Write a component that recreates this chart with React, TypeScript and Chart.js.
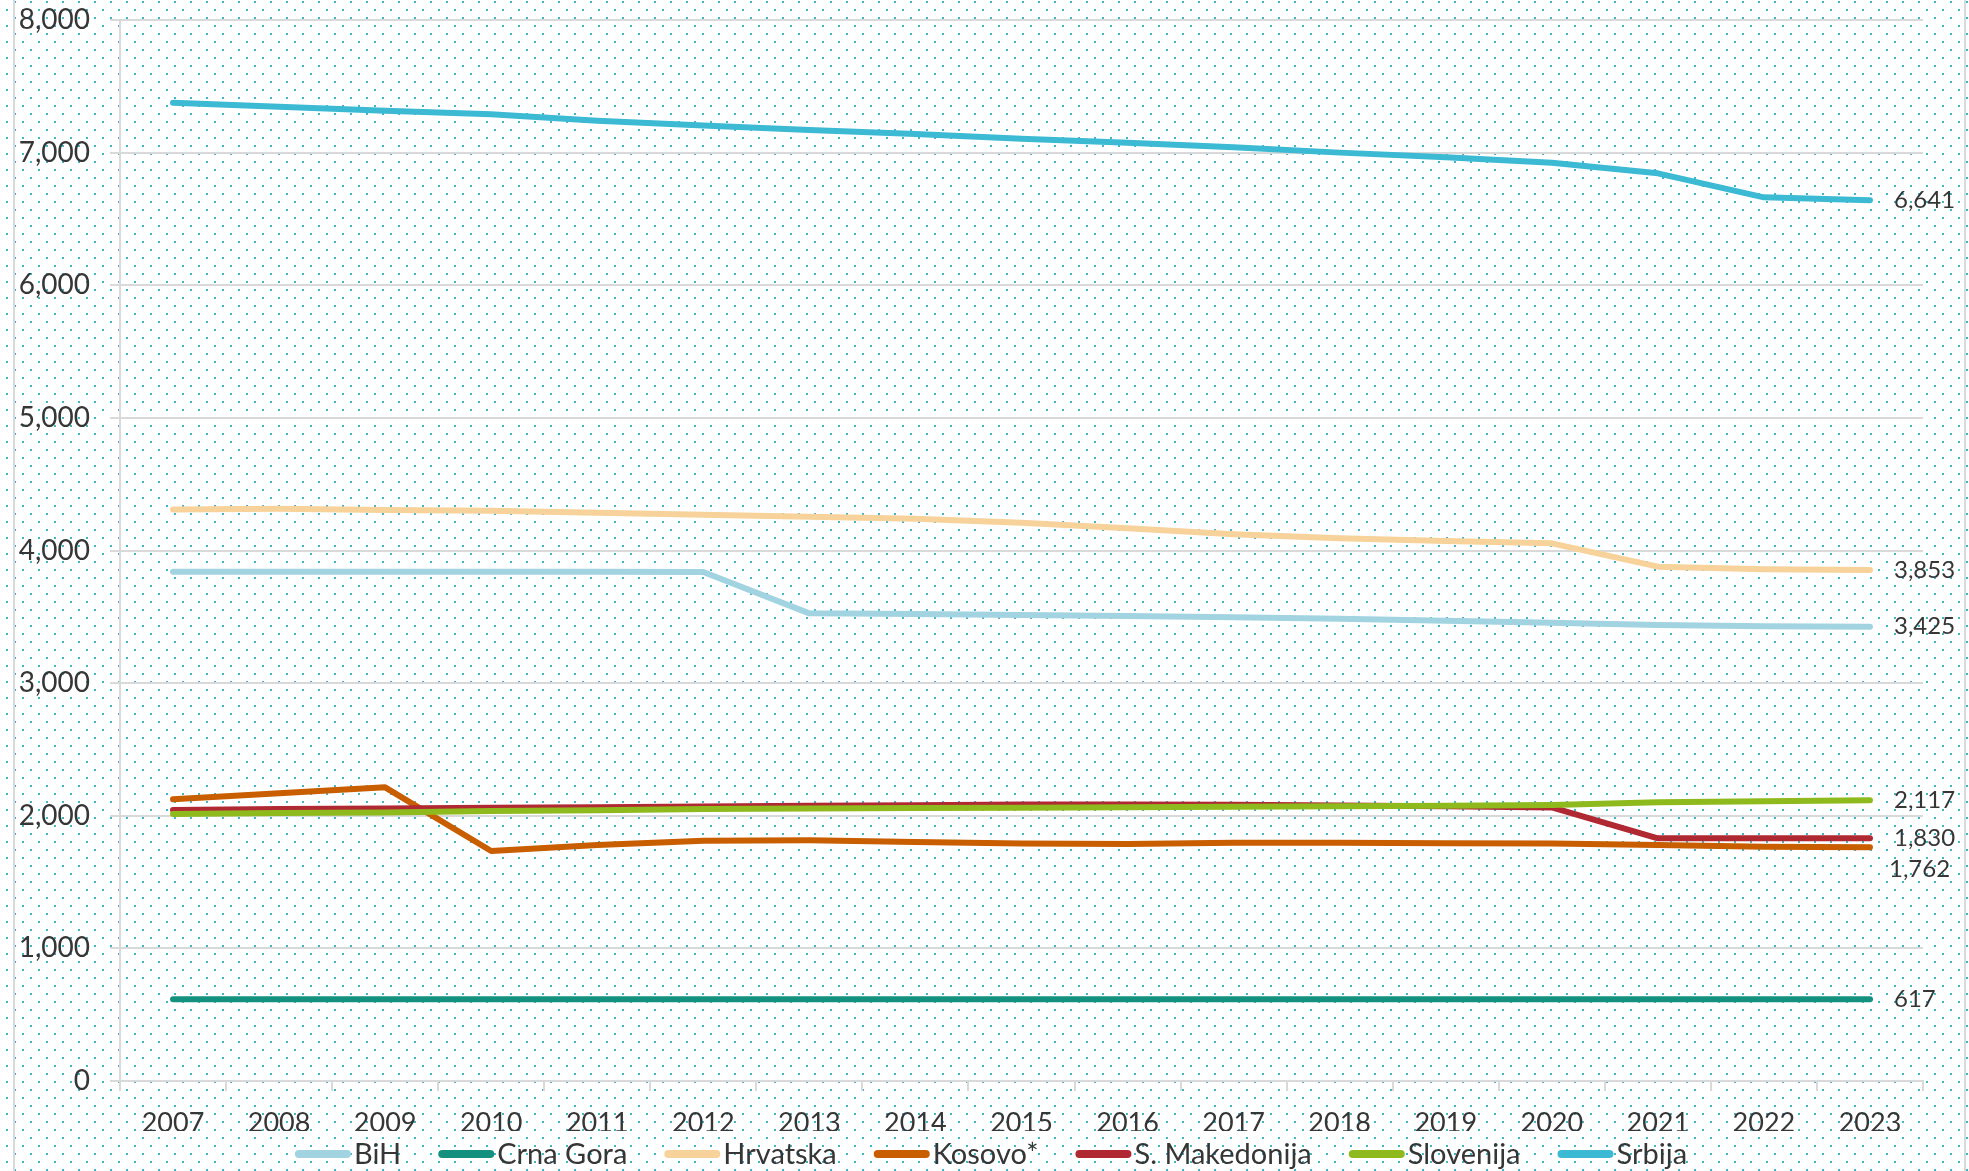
import React, { useEffect, useRef } from 'react';
import { Chart, registerables } from 'chart.js';

Chart.register(...registerables);

// ---- data ----
const years = ['2007', '2008', '2009', '2010', '2011', '2012', '2013', '2014', '2015', '2016', '2017', '2018', '2019', '2020', '2021', '2022', '2023'];

const bih = [3840, 3840, 3840, 3840, 3840, 3838, 3526, 3522, 3513, 3506, 3496, 3486, 3471, 3456, 3438, 3428, 3425];
const crnaGora = [617, 617, 617, 617, 617, 617, 617, 617, 617, 617, 617, 617, 617, 617, 617, 617, 617];
const hrvatska = [4310, 4315, 4305, 4300, 4285, 4270, 4255, 4240, 4209, 4167, 4122, 4092, 4071, 4054, 3878, 3858, 3853];
const kosovo = [2124, 2170, 2214, 1734, 1779, 1812, 1815, 1803, 1790, 1787, 1797, 1797, 1792, 1790, 1779, 1767, 1762];
const makedonija = [2043, 2050, 2055, 2060, 2065, 2070, 2075, 2080, 2085, 2085, 2083, 2078, 2072, 2063, 1830, 1830, 1830];
const slovenija = [2013, 2020, 2025, 2035, 2042, 2050, 2055, 2058, 2061, 2064, 2068, 2072, 2076, 2081, 2101, 2109, 2117];
const srbija = [7376, 7345, 7315, 7290, 7240, 7205, 7170, 7140, 7105, 7075, 7040, 7000, 6965, 6924, 6844, 6663, 6641];

const seriesNames = ['BiH', 'Crna Gora', 'Hrvatska', 'Kosovo*', 'S. Makedonija', 'Slovenija', 'Srbija'];
const seriesValues = [bih, crnaGora, hrvatska, kosovo, makedonija, slovenija, srbija];

const yMin = 0;
const yMax = 8000;
const yStep = 1000;

// ---- styles ----
const seriesColors = ['#A2D3E0', '#14907E', '#F7D29A', '#C85E00', '#B02832', '#8FBA1E', '#3CB9D3'];
// end-label offsets (dx, dy) in pixels
const labelOffsets: [number, number][] = [[24, 0], [24, 0], [24, 0], [19, 22], [24, 0], [24, 0], [24, 0]];

const FONT = 'Lato, "Open Sans", sans-serif';
const TEXT = '#363636';
const GRID = '#D9D9D9';
const DOT = '#3DB6CC';
const W = 1969;
const H = 1171;

const bgPlugin = {
  id: 'bgPattern',
  beforeDraw(chart: any) {
    const { ctx, width, height } = chart;
    ctx.save();
    ctx.fillStyle = '#ffffff';
    ctx.fillRect(0, 0, width, height);
    ctx.fillStyle = DOT;
    let k = 0;
    for (let y = 1; y < height; y += 8, k++) {
      const start = k % 2 === 0 ? -2 : 6;
      for (let x = start; x < width; x += 16) ctx.fillRect(x, y, 2, 2);
    }
    ctx.fillStyle = GRID;
    ctx.fillRect(13, 0, 2, height);
    ctx.fillRect(1964, 0, 2, height);
    ctx.restore();
  },
};

const endLabelPlugin = {
  id: 'endLabels',
  afterDatasetsDraw(chart: any) {
    const { ctx } = chart;
    const xs = chart.scales.x;
    const ys = chart.scales.y;
    ctx.save();
    ctx.font = `24px ${FONT}`;
    ctx.fillStyle = TEXT;
    ctx.textAlign = 'left';
    ctx.textBaseline = 'middle';
    seriesValues.forEach((vals, i) => {
      const last = vals.length - 1;
      const v = vals[last];
      const px = xs.getPixelForValue(last);
      const py = ys.getPixelForValue(v);
      ctx.fillText(v.toLocaleString('en-US'), px + labelOffsets[i][0], py + labelOffsets[i][1]);
    });
    ctx.restore();
  },
};

const legendPlugin = {
  id: 'customLegend',
  afterDraw(chart: any) {
    const { ctx } = chart;
    ctx.save();
    ctx.font = `29px ${FONT}`;
    const markerW = 56;
    const gapText = 3;
    const gapItem = 37;
    const widths = seriesNames.map((n) => ctx.measureText(n).width);
    const total = widths.reduce((a, w) => a + markerW + gapText + w, 0) + gapItem * (seriesNames.length - 1);
    let x = 991 - total / 2;
    const y = 1154;
    ctx.textBaseline = 'middle';
    ctx.textAlign = 'left';
    seriesNames.forEach((n, i) => {
      ctx.strokeStyle = seriesColors[i];
      ctx.lineWidth = 8;
      ctx.lineCap = 'round';
      ctx.beginPath();
      ctx.moveTo(x + 4, y);
      ctx.lineTo(x + markerW - 4, y);
      ctx.stroke();
      ctx.fillStyle = TEXT;
      ctx.fillText(n, x + markerW + gapText, y + 1);
      x += markerW + gapText + widths[i] + gapItem;
    });
    ctx.restore();
  },
};

export default function App() {
  const ref = useRef<HTMLCanvasElement | null>(null);

  useEffect(() => {
    if (!ref.current) return;
    const datasets = seriesNames.map((name, i) => ({
      label: name,
      data: seriesValues[i],
      borderColor: seriesColors[i],
      backgroundColor: seriesColors[i],
      borderWidth: 6,
      pointRadius: 0,
      tension: 0,
      fill: false,
      borderCapStyle: 'round' as const,
      borderJoinStyle: 'round' as const,
      order: seriesNames.length - i,
    }));
    const chart = new Chart(ref.current, {
      type: 'line',
      data: { labels: years, datasets },
      options: {
        responsive: false,
        animation: false,
        devicePixelRatio: 1,
        layout: { padding: { left: 0, right: 46, top: 20, bottom: 40 } },
        plugins: { legend: { display: false }, tooltip: { enabled: false } },
        scales: {
          x: {
            offset: true,
            grid: {
              display: true,
              drawOnChartArea: false,
              drawTicks: true,
              tickLength: 10,
              color: GRID,
              lineWidth: 2,
              offset: true,
            },
            border: { display: true, color: GRID, width: 2 },
            ticks: {
              font: { family: FONT, size: 27 },
              color: TEXT,
              padding: 16,
              maxRotation: 0,
              autoSkip: false,
            },
            afterFit: (s: any) => {
              s.height = 50;
              s.paddingLeft = 0;
              s.paddingRight = 0;
            },
          },
          y: {
            min: yMin,
            max: yMax,
            ticks: {
              stepSize: yStep,
              font: { family: FONT, size: 28 },
              color: TEXT,
              padding: 20,
              callback: (v: any) => Number(v).toLocaleString('en-US'),
            },
            grid: { color: GRID, lineWidth: 2, tickLength: 10, drawTicks: true },
            border: { display: true, color: GRID, width: 2 },
            afterFit: (s: any) => {
              s.width = 120;
              s.paddingTop = 0;
              s.paddingBottom = 0;
            },
          },
        },
      },
      plugins: [bgPlugin, endLabelPlugin, legendPlugin],
    });
    return () => chart.destroy();
  }, []);

  return (
    <div style={{ position: 'fixed', left: 0, top: 0, width: W, height: H }}>
      <canvas ref={ref} width={W} height={H} style={{ width: W, height: H, display: 'block' }} />
    </div>
  );
}
